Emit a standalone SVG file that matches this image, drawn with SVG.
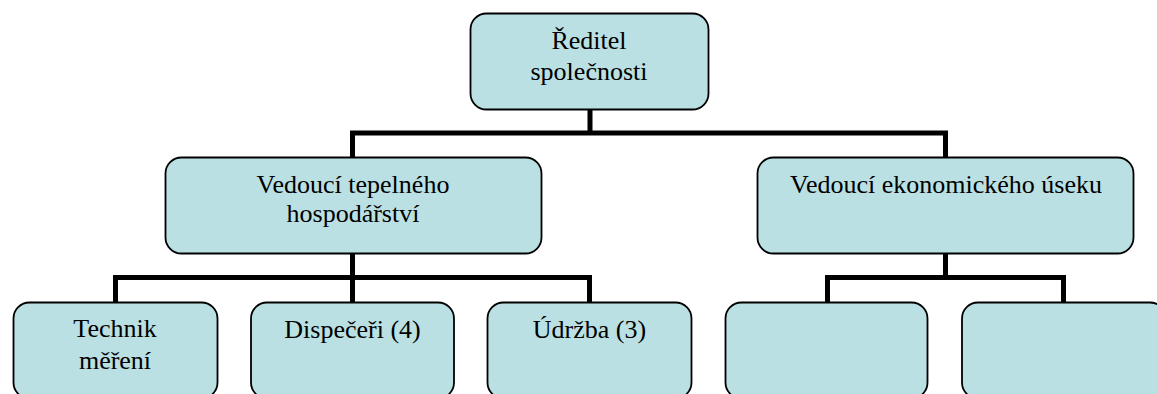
<svg xmlns="http://www.w3.org/2000/svg" width="1157" height="394" viewBox="0 0 1157 394">
<style>
.box{fill:#BBE0E3;stroke:#000;stroke-width:1.8}
.t{font-family:"Liberation Serif","Times New Roman",serif;font-size:26px;fill:#000;text-anchor:middle}
.c{fill:none;stroke:#000;stroke-width:5;stroke-linejoin:miter;stroke-linecap:butt}
</style>
<rect width="1157" height="394" fill="#fff"/>
<g id="connectors">
<path class="c" d="M590 109 V133"/>
<path class="c" d="M352.5 157 V133 H945.5 V157"/>
<path class="c" d="M352.5 253 V302"/>
<path class="c" d="M115.5 302 V277.5 H589.5 V302"/>
<path class="c" d="M945.5 253 V277.5"/>
<path class="c" d="M827.5 302 V277.5 H1063.5 V302"/>
</g>
<g id="reditel">
<rect class="box" x="470.5" y="13.5" width="238" height="96" rx="16"/>
<text class="t" x="589" y="49">Ředitel</text>
<text class="t" x="589" y="80">společnosti</text>
</g>
<g id="vedouci-tepelneho">
<rect class="box" x="165.5" y="157.5" width="376" height="96" rx="16"/>
<text class="t" x="353" y="193">Vedoucí tepelného</text>
<text class="t" x="353" y="222">hospodářství</text>
</g>
<g id="vedouci-ekonomickeho">
<rect class="box" x="757.5" y="157.5" width="376" height="96" rx="16"/>
<text class="t" x="946" y="193">Vedoucí ekonomického úseku</text>
</g>
<g id="technik">
<rect class="box" x="13.5" y="302.5" width="204" height="96" rx="16"/>
<text class="t" x="115" y="337">Technik</text>
<text class="t" x="115" y="369">měření</text>
</g>
<g id="dispeceri">
<rect class="box" x="251" y="302.5" width="203" height="96" rx="16"/>
<text class="t" x="352.5" y="338">Dispečeři (4)</text>
</g>
<g id="udrzba">
<rect class="box" x="487.5" y="302.5" width="204" height="96" rx="16"/>
<text class="t" x="589.5" y="338">Údržba (3)</text>
</g>
<g id="ekonom-1">
<rect class="box" x="725.5" y="302.5" width="202" height="96" rx="16"/>
</g>
<g id="ekonom-2">
<rect class="box" x="962" y="302.5" width="204" height="96" rx="16"/>
</g>
</svg>
